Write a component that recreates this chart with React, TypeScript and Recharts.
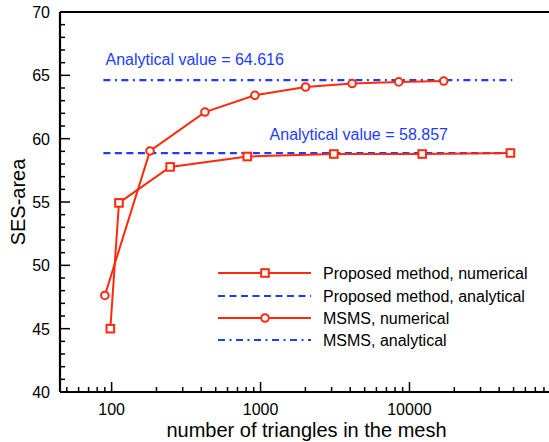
import React from "react";
import { LineChart, Line, XAxis, YAxis, ReferenceLine, ReferenceDot } from "recharts";

// number of triangles vs. SES area
const proposedTriangles = [98, 112, 247, 815, 3105, 12170, 47640];
const proposedArea = [45.0, 54.93, 57.77, 58.59, 58.79, 58.79, 58.87];
const msmsTriangles = [90, 181, 423, 916, 2005, 4120, 8470, 16990];
const msmsArea = [47.62, 59.03, 62.1, 63.42, 64.08, 64.35, 64.48, 64.55];

const proposedAnalytical = 58.857;
const msmsAnalytical = 64.616;
const analyticalSpan = [88, 49000];

const xMajorTicks = [100, 1000, 10000];
const xMinorTicks = [
  50, 60, 70, 80, 90, 200, 300, 400, 500, 600, 700, 800, 900, 2000, 3000, 4000,
  5000, 6000, 7000, 8000, 9000, 20000, 30000, 40000, 50000, 60000, 70000, 80000, 90000,
];
const yMajorTicks = [40, 45, 50, 55, 60, 65, 70];
const yMinorTicks = [
  41, 42, 43, 44, 46, 47, 48, 49, 51, 52, 53, 54, 56, 57, 58, 59, 61, 62, 63, 64, 66, 67, 68, 69,
];

const legendLabels = [
  "Proposed method, numerical",
  "Proposed method, analytical",
  "MSMS, numerical",
  "MSMS, analytical",
];

const RED = "#ff2a0c";
const BLUE = "#1e3cff";
const FONT = '"Liberation Sans", Arial, Helvetica, sans-serif';
const DASH = "7 4.5";
const DASH_DOT = "7 4.5 2 4.5";

const PLOT_LEFT = 60;
const PLOT_TOP = 12;
const PLOT_BOTTOM = 392;

const proposed = proposedTriangles.map((x, i) => ({ x, y: proposedArea[i] }));
const msms = msmsTriangles.map((x, i) => ({ x, y: msmsArea[i] }));
const proposedLine = analyticalSpan.map((x) => ({ x, y: proposedAnalytical }));
const msmsLine = analyticalSpan.map((x) => ({ x, y: msmsAnalytical }));
const xTicks = [...xMinorTicks, ...xMajorTicks].sort((a, b) => a - b);
const yTicks = [...yMinorTicks, ...yMajorTicks].sort((a, b) => a - b);

function XTick({ x, payload }: any) {
  const major = xMajorTicks.includes(payload.value);
  return (
    <g>
      <line x1={x} x2={x} y1={PLOT_BOTTOM} y2={PLOT_BOTTOM - (major ? 10 : 5)} stroke="#000" strokeWidth={1.5} />
      {major && (
        <text x={x} y={415} textAnchor="middle" fontSize={16} fill="#000" fontFamily={FONT}>
          {payload.value}
        </text>
      )}
    </g>
  );
}

function YTick({ y, payload }: any) {
  const major = yMajorTicks.includes(payload.value);
  return (
    <g>
      <line x1={PLOT_LEFT} x2={PLOT_LEFT + (major ? 10 : 5)} y1={y} y2={y} stroke="#000" strokeWidth={1.5} />
      {major && (
        <text x={50} y={y + 6} textAnchor="end" fontSize={16} fill="#000" fontFamily={FONT}>
          {payload.value}
        </text>
      )}
    </g>
  );
}

const Square = (props: any) => {
  const { cx, cy, index } = props;
  return <rect key={`sq-${index}`} x={cx - 3.8} y={cy - 3.8} width={7.6} height={7.6} fill="#fff" stroke={RED} strokeWidth={2} />;
};

const Circle = (props: any) => {
  const { cx, cy, index } = props;
  return <circle key={`ci-${index}`} cx={cx} cy={cy} r={3.8} fill="#fff" stroke={RED} strokeWidth={2} />;
};

function Legend() {
  const rows = [
    { stroke: RED, dash: undefined, marker: "square" },
    { stroke: BLUE, dash: DASH, marker: null },
    { stroke: RED, dash: undefined, marker: "circle" },
    { stroke: BLUE, dash: DASH_DOT, marker: null },
  ];
  const rowY = [273, 296, 318, 340];
  return (
    <svg width={549} height={442} style={{ position: "absolute", left: 0, top: 0, pointerEvents: "none" }}>
      {rows.map((r, i) => (
        <g key={i}>
          <line x1={218} x2={311} y1={rowY[i]} y2={rowY[i]} stroke={r.stroke} strokeWidth={2} strokeDasharray={r.dash} />
          {r.marker === "square" && (
            <rect x={265 - 3.8} y={rowY[i] - 3.8} width={7.6} height={7.6} fill="#fff" stroke={RED} strokeWidth={2} />
          )}
          {r.marker === "circle" && <circle cx={265} cy={rowY[i]} r={3.8} fill="#fff" stroke={RED} strokeWidth={2} />}
          <text x={323} y={rowY[i] + 5.5} fontSize={16} fill="#000" fontFamily={FONT}>
            {legendLabels[i]}
          </text>
        </g>
      ))}
    </svg>
  );
}

export default function App() {
  return (
    <div
      style={{
        position: "absolute",
        left: 0,
        top: 0,
        width: 549,
        height: 442,
        overflow: "hidden",
        background: "#fff",
        fontFamily: FONT,
      }}
    >
      <LineChart width={560} height={442} margin={{ top: PLOT_TOP, right: 7, bottom: 0, left: 0 }}>
        <XAxis
          dataKey="x"
          type="number"
          scale="log"
          domain={[45, 92000]}
          allowDataOverflow
          ticks={xTicks}
          interval={0}
          tickLine={false}
          axisLine={{ stroke: "#000", strokeWidth: 2.2 }}
          height={50}
          tick={<XTick />}
          label={(p: any) => (
            <text
              x={p.viewBox.x + p.viewBox.width / 2}
              y={437}
              textAnchor="middle"
              fontSize={20}
              fill="#000"
              fontFamily={FONT}
            >
              number of triangles in the mesh
            </text>
          )}
        />
        <YAxis
          dataKey="y"
          type="number"
          domain={[40, 70]}
          allowDataOverflow
          ticks={yTicks}
          interval={0}
          tickLine={false}
          axisLine={{ stroke: "#000", strokeWidth: 2.2 }}
          width={60}
          tick={<YTick />}
          label={(p: any) => {
            const cy = p.viewBox.y + p.viewBox.height / 2;
            return (
              <text
                x={25}
                y={cy}
                transform={`rotate(-90, 25, ${cy})`}
                textAnchor="middle"
                fontSize={20}
                fill="#000"
                fontFamily={FONT}
              >
                SES-area
              </text>
            );
          }}
        />
        <ReferenceLine y={70} stroke="#000" strokeWidth={2.2} />
        <Line
          data={proposedLine}
          dataKey="y"
          stroke={BLUE}
          strokeWidth={2.2}
          strokeDasharray={DASH}
          dot={false}
          isAnimationActive={false}
        />
        <Line
          data={msmsLine}
          dataKey="y"
          stroke={BLUE}
          strokeWidth={2.2}
          strokeDasharray={DASH_DOT}
          dot={false}
          isAnimationActive={false}
        />
        <Line
          data={proposed}
          dataKey="y"
          stroke={RED}
          strokeWidth={2}
          dot={Square}
          isAnimationActive={false}
        />
        <Line data={msms} dataKey="y" stroke={RED} strokeWidth={2} dot={Circle} isAnimationActive={false} />
        <ReferenceDot
          x={91}
          y={65.79}
          r={0}
          shape={(p: any) => (
            <text x={p.cx} y={p.cy} fontSize={16} fill={BLUE} fontFamily={FONT}>
              {`Analytical value = ${msmsAnalytical}`}
            </text>
          )}
        />
        <ReferenceDot
          x={1150}
          y={59.87}
          r={0}
          shape={(p: any) => (
            <text x={p.cx} y={p.cy} fontSize={16} fill={BLUE} fontFamily={FONT}>
              {`Analytical value = ${proposedAnalytical}`}
            </text>
          )}
        />
      </LineChart>
      <Legend />
    </div>
  );
}
